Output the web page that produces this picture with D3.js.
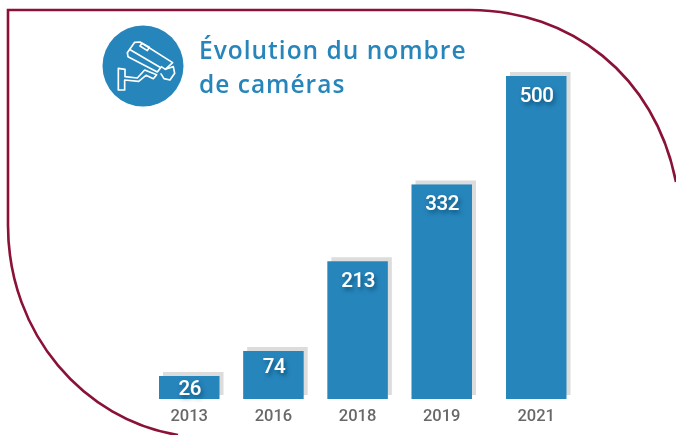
<!DOCTYPE html>
<html lang="fr">
<head>
<meta charset="utf-8">
<script src="https://cdn.jsdelivr.net/npm/d3@7"></script>
<style>
html,body{margin:0;padding:0;background:#fff;}
svg{display:block;}
text{font-family:"Roboto",sans-serif;}
</style>
</head>
<body>
<svg id="c" width="676" height="435"></svg>
<script>
const categories = ["2013","2016","2018","2019","2021"];
const values = [26,74,213,332,500];
const titleLines = ["Évolution du nombre","de caméras"];

const BLUE="#2585bb", SHADOW="#dcdcdc", FRAME="#8a1237", GREY="#686868";
const svg=d3.select("#c");
const defs=svg.append("defs");
defs.append("filter").attr("id","soft").append("feGaussianBlur").attr("stdDeviation",0.55);
const ds=defs.append("filter").attr("id","lab").attr("x","-30%").attr("y","-30%").attr("width","170%").attr("height","170%");
ds.append("feGaussianBlur").attr("in","SourceAlpha").attr("stdDeviation",2).attr("result","b");
ds.append("feOffset").attr("in","b").attr("dx",1.5).attr("dy",2.5).attr("result","o");
ds.append("feFlood").attr("flood-color","#0d4468").attr("flood-opacity",0.75).attr("result","f");
ds.append("feComposite").attr("in","f").attr("in2","o").attr("operator","in").attr("result","s");
ds.append("feGaussianBlur").attr("in","SourceGraphic").attr("stdDeviation",0.4).attr("result","t");
const mg=ds.append("feMerge");
mg.append("feMergeNode").attr("in","s");
mg.append("feMergeNode").attr("in","t");

// Frame
const frame=d3.path();
frame.moveTo(8,225);
frame.lineTo(8,10);
frame.lineTo(470,10);
frame.bezierCurveTo(570,10,655,75,676,182);
frame.moveTo(8,225);
frame.bezierCurveTo(8,335,85,420,178,435);
svg.append("path").attr("d",frame.toString()).attr("fill","none").attr("stroke",FRAME).attr("stroke-width",2.6);

// Scales: the source picture is not strictly proportional at the low end and leaves a wider last gap
const idx=categories.map((_,i)=>i);
const x=d3.scaleLinear().domain([0,3,4]).range([159,411.5,506]);
const y=d3.scaleLinear().domain([0,26,74,500]).range([399,376,351,76]);
const bw=60.5;

const g=svg.append("g").attr("filter","url(#soft)");
g.selectAll(".sh").data(idx).join("rect").attr("class","sh")
 .attr("x",i=>x(i)+4).attr("y",i=>y(values[i])-4)
 .attr("width",bw).attr("height",i=>y(0)-y(values[i])).attr("fill",SHADOW);
g.selectAll(".bar").data(idx).join("rect").attr("class","bar")
 .attr("x",i=>x(i)).attr("y",i=>y(values[i]))
 .attr("width",bw).attr("height",i=>y(0)-y(values[i])).attr("fill",BLUE);

g.selectAll(".year").data(idx).join("text").attr("class","year")
 .attr("x",i=>x(i)+bw/2).attr("y",421).attr("text-anchor","middle")
 .attr("font-size",16.5).attr("font-weight",500).attr("fill",GREY).text(i=>categories[i]);

svg.selectAll(".val").data(idx).join("text").attr("class","val")
 .attr("x",i=>x(i)+bw/2+0.5)
 .attr("y",i=>{const h=y(0)-y(values[i]);return y(values[i])+(h<30?h/2:h<60?15:18.5)+7.3;})
 .attr("text-anchor","middle").attr("font-size",20.5).attr("font-weight",500).attr("letter-spacing",-0.4)
 .attr("fill","#fff").attr("filter","url(#lab)").text(i=>values[i]);

// Title
svg.selectAll(".title").data(titleLines).join("text").attr("class","title")
 .attr("x",199).attr("y",(d,i)=>59+i*34).attr("font-size",24.5).attr("font-weight",600)
 .attr("letter-spacing",1).style("font-family","'Open Sans',sans-serif")
 .attr("fill",BLUE).attr("filter","url(#soft)").text(d=>d);

// Icon
const icon=svg.append("g").attr("filter","url(#soft)");
icon.append("circle").attr("cx",143).attr("cy",66).attr("r",40.5).attr("fill",BLUE);
const ic=icon.append("g").attr("transform","translate(90,10) scale(0.3333)")
 .attr("fill","none").attr("stroke","#fff").attr("stroke-width",5).attr("stroke-linejoin","round");
const shapes=[
 "M112,128 L134,97 L150,96 L248,158 L226,178 L214,170 L202,186 L114,140 Z",
 "M118,118 L210,172",
 "M150,108 L172,122 L178,112 L156,100 Z",
 "M226,178 L250,170 L254,190 L240,210 L222,206 L212,190",
 "M85,175 L105,178 L105,200 L142,204 L164,180 L200,194 L190,206 L168,196 L146,214 L104,210 L104,240 L85,240 Z"
];
ic.selectAll("path").data(shapes).join("path").attr("d",d=>d);
</script>
</body>
</html>
